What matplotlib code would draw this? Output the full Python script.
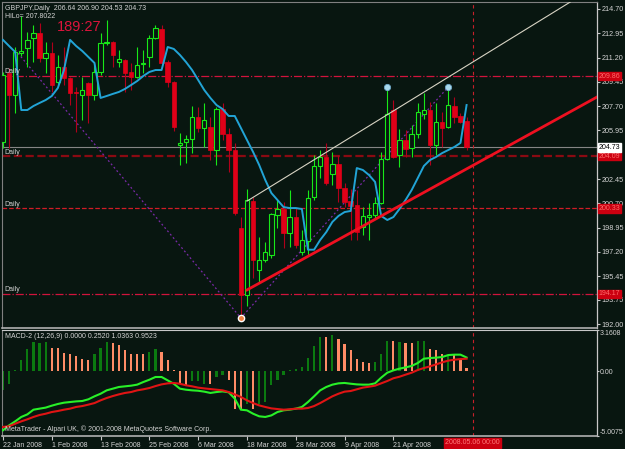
import numpy as np
import matplotlib.pyplot as plt
from matplotlib.transforms import blended_transform_factory

plt.rcParams['font.family'] = ['Liberation Sans', 'DejaVu Sans']

# GBPJPY daily bars, 22 Jan 2008 .. early May 2008
opens = [205.12, 210.09, 208.50, 211.53, 211.89, 212.61, 212.97, 211.17, 211.53, 209.44,
         210.52, 209.73, 208.72, 208.50, 209.37, 208.50, 210.16, 212.25, 212.32, 210.88,
         211.03, 210.16, 209.80, 210.74, 211.24, 212.61, 213.26, 210.88, 209.44, 204.90,
         205.12, 205.33, 206.92, 206.13, 206.20, 204.54, 207.49, 205.69, 204.54, 198.92,
         194.09, 200.87, 195.90, 196.62, 196.97, 199.86, 200.29, 198.56, 199.71, 197.19,
         197.98, 201.15, 203.39, 204.04, 202.81, 203.53, 201.80, 200.87, 200.58, 198.99,
         199.71, 199.86, 200.72, 203.89, 207.42, 204.18, 205.26, 204.68, 205.69, 207.13,
         207.42, 204.90, 206.56, 206.20, 207.71, 206.99, 206.64]
highs = [210.16, 210.45, 211.96, 214.20, 213.04, 213.55, 213.69, 212.32, 212.32, 211.39,
         211.96, 209.80, 209.08, 209.80, 209.45, 210.88, 212.97, 213.91, 212.40, 211.75,
         211.10, 210.81, 211.96, 211.75, 212.83, 213.55, 213.55, 211.03, 209.50, 205.77,
         205.62, 207.71, 207.64, 207.93, 206.92, 207.64, 207.93, 206.13, 205.05, 199.71,
         201.73, 201.15, 198.27, 197.91, 200.00, 200.94, 200.79, 201.66, 200.36, 198.78,
         201.66, 204.18, 204.54, 205.05, 204.40, 204.18, 202.16, 201.73, 201.66, 200.43,
         200.72, 201.15, 204.40, 209.08, 208.14, 206.05, 205.98, 206.34, 207.93, 208.65,
         208.00, 207.93, 207.28, 209.08, 208.36, 207.21, 206.90]
lows = [204.68, 204.68, 207.20, 211.31, 210.52, 210.88, 210.88, 210.09, 208.72, 209.22,
        209.22, 207.78, 205.84, 206.70, 206.49, 208.14, 209.94, 212.11, 210.52, 210.52,
        208.72, 208.86, 209.73, 210.09, 210.52, 212.55, 210.74, 209.08, 205.91, 203.46,
        203.59, 204.32, 205.84, 204.76, 203.82, 203.46, 205.26, 202.95, 199.86, 192.44,
        193.30, 195.32, 194.96, 196.47, 196.76, 198.92, 197.48, 197.55, 197.48, 196.97,
        196.97, 200.94, 202.52, 202.02, 202.02, 200.79, 200.43, 198.06, 198.06, 198.42,
        198.06, 199.64, 200.65, 203.82, 203.96, 203.32, 204.04, 204.04, 205.41, 206.77,
        203.46, 204.18, 204.76, 206.13, 206.49, 206.49, 204.53]
closes = [209.94, 208.50, 211.60, 211.67, 212.47, 212.97, 211.17, 211.53, 209.22, 210.52,
          209.73, 208.65, 208.65, 208.86, 208.50, 210.16, 212.25, 212.32, 211.39, 211.10,
          210.09, 209.80, 210.66, 210.81, 212.61, 213.33, 210.81, 209.44, 206.20, 205.05,
          205.33, 206.92, 206.13, 206.70, 204.54, 207.49, 205.69, 204.54, 200.00, 194.09,
          200.94, 196.62, 196.62, 197.19, 199.93, 200.29, 198.56, 199.71, 197.70, 198.06,
          201.08, 203.39, 204.04, 202.16, 203.53, 201.80, 200.79, 200.51, 198.63, 199.79,
          199.86, 200.72, 203.89, 207.13, 204.04, 205.26, 204.61, 205.69, 207.28, 207.42,
          204.90, 206.56, 206.13, 207.78, 206.92, 206.56, 204.73]
hilo = [212.47, 212.03, 211.60, 207.42, 207.42, 207.71, 207.93, 208.14, 208.43, 209.01,
        210.30, 212.47, 212.03, 211.67, 211.24, 210.81, 208.29, 208.43, 208.58, 208.72,
        208.94, 209.22, 209.51, 209.87, 210.16, 210.30, 210.30, 211.96, 211.82, 211.39,
        210.88, 210.30, 209.58, 208.86, 208.29, 207.78, 207.49, 206.99, 206.99, 206.13,
        205.26, 204.40, 203.46, 202.38, 201.44, 200.94, 200.43, 200.36, 200.36, 200.29,
        197.36, 197.36, 198.06, 198.63, 199.36, 199.79, 200.07, 200.15, 203.24, 203.10,
        202.74, 202.24, 199.79, 199.50, 199.71, 200.29, 200.94, 201.66, 202.52, 203.39,
        203.82, 204.04, 204.32, 204.54, 204.76, 205.05, 207.78]

macd_main = [-4.57, -4.19, -3.88, -3.54, -3.34, -2.98, -2.90, -2.82, -2.67, -2.54,
             -2.44, -2.39, -2.34, -2.31, -2.18, -1.95, -1.75, -1.49, -1.36, -1.23,
             -1.18, -1.13, -1.05, -0.85, -0.67, -0.46, -0.46, -0.72, -0.98, -1.36,
             -1.44, -1.49, -1.52, -1.59, -1.69, -1.62, -1.57, -1.64, -2.13, -2.98,
             -3.03, -3.29, -3.49, -3.54, -3.42, -3.16, -3.03, -2.98, -2.90, -2.77,
             -2.39, -1.95, -1.49, -1.23, -1.05, -0.95, -0.92, -0.98, -1.03, -1.05,
             -1.05, -0.95, -0.51, -0.13, 0.05, 0.18, 0.28, 0.39, 0.62, 0.95,
             1.00, 1.03, 1.08, 1.23, 1.26, 1.26, 1.04]
macd_signal = [-4.31, -4.26, -4.06, -3.88, -3.72, -3.54, -3.39, -3.29, -3.16, -3.08,
               -2.98, -2.90, -2.77, -2.70, -2.59, -2.47, -2.26, -2.08, -1.93, -1.80,
               -1.69, -1.62, -1.49, -1.41, -1.31, -1.16, -1.03, -0.95, -0.92, -0.98,
               -1.10, -1.18, -1.28, -1.34, -1.39, -1.44, -1.49, -1.62, -1.80, -2.00,
               -2.26, -2.47, -2.65, -2.77, -2.88, -2.93, -2.98, -2.95, -2.90, -2.90,
               -2.85, -2.70, -2.47, -2.21, -1.95, -1.75, -1.59, -1.54, -1.41, -1.28,
               -1.21, -1.13, -0.95, -0.77, -0.56, -0.44, -0.28, -0.13, 0.08, 0.23,
               0.36, 0.51, 0.67, 0.80, 0.87, 0.92, 0.95]
macd_hist = [-1.49, -0.98, 0.10, 0.87, 1.72, 2.23, 2.16, 2.23, 1.80, 1.80,
             1.41, 1.34, 1.13, 0.95, 0.87, 1.34, 1.80, 2.23, 2.16, 1.98,
             1.64, 1.34, 1.34, 1.34, 1.46, 1.72, 1.46, 0.87, 0.05, -0.98,
             -1.10, -0.77, -0.77, -0.98, -1.03, -0.46, -0.33, -0.67, -2.90, -3.03,
             -2.52, -2.90, -2.52, -2.39, -1.10, -0.72, -0.33, 0.05, 0.13, 0.31,
             1.03, 1.90, 2.62, 2.62, 2.75, 2.44, 2.11, 1.59, 0.95, 0.69,
             0.62, 0.69, 1.34, 2.31, 2.31, 2.23, 2.16, 2.16, 2.31, 2.31,
             1.72, 1.59, 1.34, 1.26, 1.21, 0.87, 0.25]
# g = green bar, s = salmon bar
hist_kind = ("ggggggggss" "sssssgggss" "ssssggssss" "sgggsggsss" "gsgggggggg"
             "gggsgsssss" "sgggsgssgg" "sssgsss")

date_idx = [0, 8, 16, 24, 32, 40, 48, 56, 64]
date_lbl = ['22 Jan 2008', '1 Feb 2008', '13 Feb 2008', '25 Feb 2008', '6 Mar 2008',
            '18 Mar 2008', '28 Mar 2008', '9 Apr 2008', '21 Apr 2008']
price_ticks = [214.70, 212.95, 211.20, 209.45, 207.70, 205.95, 202.45, 200.70,
               198.95, 197.20, 195.45, 193.75, 192.00]
levels = [209.86, 204.09, 200.33, 194.17]
level_lbl = ['209.86', '204.09', '200.33', '194.17']
last_price = 204.73
upper_x, upper_y = [40, 93], [200.86, 215.20]
lower_x, lower_y = [40, 97.4], [194.46, 208.36]
zz_x, zz_y = [2, 39, 73], [211.75, 192.44, 209.08]
peak_x, peak_y = [63, 73], [209.08, 209.08]
trough_x, trough_y = [39], [192.44]
cursor_bar = 77
cursor_lbl = '2008.05.06 00:00'

BG = '#081610'
FG = '#d4d4d4'
W, H = 625, 449

fig = plt.figure(figsize=(W / 100, H / 100), dpi=100, facecolor=BG)
ax = fig.add_axes([2 / W, 121 / H, 595 / W, 326 / H], facecolor=BG)
ax2 = fig.add_axes([2 / W, 13 / H, 595 / W, 106 / H], facecolor=BG)

x = np.arange(len(opens))
o = np.array(opens); c = np.array(closes)
up = c >= o
green, red = '#18e818', '#e00018'

# wicks then bodies
ax.vlines(x[up], np.array(lows)[up], np.array(highs)[up], color=green, lw=0.8, zorder=3)
ax.vlines(x[~up], np.array(lows)[~up], np.array(highs)[~up], color='#b0001a', lw=0.8, zorder=3)
body = np.maximum(np.abs(c - o), 0.06)
ax.bar(x[up], body[up], bottom=np.minimum(o, c)[up], width=0.72, color=BG,
       edgecolor=green, linewidth=0.8, zorder=4)
ax.bar(x[~up], body[~up], bottom=np.minimum(o, c)[~up], width=0.72, color=red,
       edgecolor=red, linewidth=0.5, zorder=4)

ax.plot(x, hilo, color='#22a4d6', lw=1.4, zorder=5)

# horizontal levels
trL = blended_transform_factory(ax.transAxes, ax.transData)
styles = [('-.', '#d0143c', 0.9), ('--', '#8a0a12', 1.6), ('--', '#d01c26', 0.9), ('-.', '#d0143c', 0.9)]
for lv, (ls, col, lw) in zip(levels, styles):
    ax.axhline(lv, color=col, ls=ls, lw=lw, zorder=1)
    ax.text(0.004, lv + 0.05, 'Daily', transform=trL, color=FG, fontsize=5,
            va='bottom', ha='left', zorder=6)
ax.axhline(last_price, color='#858585', lw=0.8, zorder=1)

# trend lines, zigzag, markers
ax.plot(upper_x, upper_y, color='#d8d4c4', lw=0.8, zorder=6)
ax.plot(lower_x, lower_y, color='#ee1020', lw=2.0, zorder=6)
ax.plot(zz_x, zz_y, color='#7a2aa8', lw=0.9, ls=(0, (1.5, 2)), zorder=2)
ax.plot(peak_x, peak_y, 'o', ms=4.5, mfc='#a8d8ec', mec='#6fa8c8', mew=0.6, zorder=7)
ax.plot(trough_x, trough_y, 'o', ms=4.5, mfc='#f08040', mec='white', mew=1.0, zorder=7)

for a in (ax, ax2):
    a.axvline(cursor_bar, color='#c8202a', ls=(0, (3, 3)), lw=0.8, zorder=1)
    a.set_xlim(-0.16, 97.38)

ax.set_ylim(191.72, 215.20)
ax.set_xticks([])
ax.yaxis.tick_right()
ax.set_yticks(price_ticks)
ax.set_yticklabels(['%.2f' % p for p in price_ticks])
ax.tick_params(axis='y', colors='#c8c8c8', labelcolor=FG, labelsize=5.2, length=2.5, width=0.8, pad=1)

# MACD panel
hist_col = ['#0b7a10' if k == 'g' else '#ff8c66' for k in hist_kind]
ax2.bar(x, macd_hist, width=0.36, color=hist_col, zorder=2)
ax2.plot(x, macd_main, color='#28f028', lw=1.5, zorder=3)
ax2.plot(x, macd_signal, color='#e01414', lw=1.5, zorder=4)
ax2.set_ylim(-5.0075, 3.1608)
ax2.yaxis.tick_right()
ax2.set_yticks([3.1608, 0.0, -5.0075])
ax2.set_yticklabels(['3.1608', '0.00', '-5.0075'])
tl = ax2.get_yticklabels()
tl[0].set_va('top'); tl[2].set_va('bottom')
ax2.tick_params(axis='y', colors='#c8c8c8', labelcolor=FG, labelsize=5, length=1.5, width=0.8, pad=0.3)
ax2.set_xticks(date_idx)
ax2.set_xticklabels(date_lbl, ha='left')
ax2.tick_params(axis='x', colors='#c8c8c8', labelcolor=FG, labelsize=5, length=3, width=0.8, pad=1)

for a in (ax, ax2):
    for s in ('top', 'left'):
        a.spines[s].set_color('#808080'); a.spines[s].set_linewidth(0.8)
    a.spines['right'].set_color('#c8c8c8'); a.spines['right'].set_linewidth(0.9)
    a.spines['bottom'].set_color('#b0b0b0'); a.spines['bottom'].set_linewidth(1.2)
ax2.spines['top'].set_color('#c8c8c8')

# right side value boxes
for lv, lb in zip(levels, level_lbl):
    ax.text(1.003, lv, lb, transform=trL, fontsize=5, color='#ff6a6a', va='center', ha='left',
            bbox=dict(boxstyle='square,pad=0.1', fc='#cc0010', ec='#cc0010'), clip_on=False, zorder=10)
ax.text(1.003, last_price, '%.2f' % last_price, transform=trL, fontsize=5, color='black',
        va='center', ha='left', bbox=dict(boxstyle='square,pad=0.15', fc='white', ec='white'),
        clip_on=False, zorder=10)
tr2 = blended_transform_factory(ax2.transData, ax2.transAxes)
ax2.text(cursor_bar, -0.065, cursor_lbl, transform=tr2, fontsize=5, color='#ff7a7a', va='center',
         ha='center', bbox=dict(boxstyle='square,pad=0.2', fc='#cc0010', ec='#cc0010'),
         clip_on=False, zorder=10)

# header texts
fig.text(5 / W, 1 - 9 / H, 'GBPJPY,Daily  206.64 206.90 204.53 204.73', color=FG, fontsize=5, va='center')
fig.text(5 / W, 1 - 16 / H, 'HiLo= 207.8022', color=FG, fontsize=5, va='center')
fig.text(57 / W, 1 - 27 / H, '189:27', color='#dc143c', fontsize=10.5, va='center')
fig.text(5 / W, 1 - 336 / H, 'MACD-2 (12,26,9) 0.0000 0.2520 1.0363 0.9523', color=FG, fontsize=5, va='center')
fig.text(5 / W, 1 - 429 / H, 'MetaTrader - Alpari UK, \u00a9 2001-2008 MetaQuotes Software Corp.',
         color=FG, fontsize=5, va='center')

fig.savefig('out.png', dpi=100, facecolor=BG)
